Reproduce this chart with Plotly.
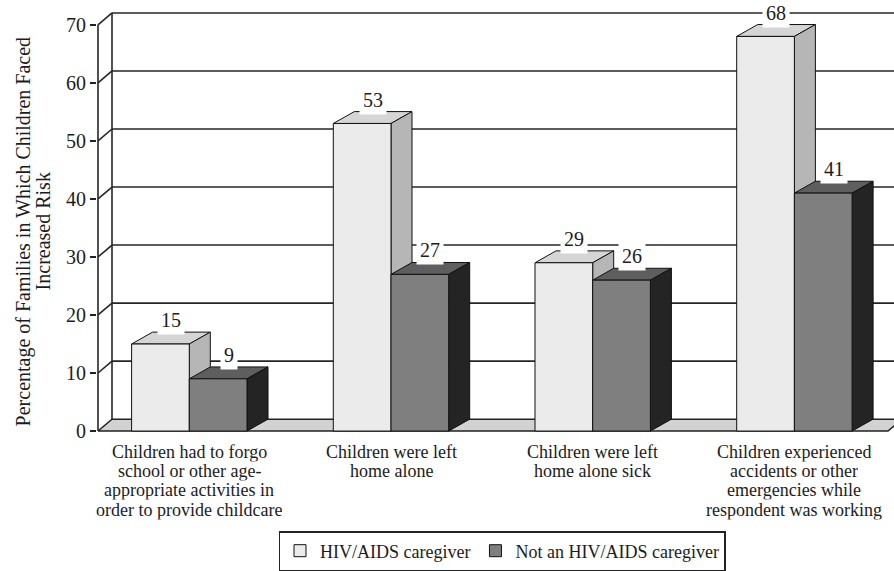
import plotly.graph_objects as go

# ---- data -------------------------------------------------------------
categories = [
    "Children had to forgo<br>school or other age-<br>appropriate activities in<br>order to provide childcare",
    "Children were left<br>home alone",
    "Children were left<br>home alone sick",
    "Children experienced<br>accidents or other<br>emergencies while<br>respondent was working",
]
hiv_caregiver = [15, 53, 29, 68]
not_caregiver = [9, 27, 26, 41]
series_names = ["HIV/AIDS caregiver", "Not an HIV/AIDS caregiver"]
y_ticks = [0, 10, 20, 30, 40, 50, 60, 70]
y_title_lines = ["Percentage of Families in Which Children Faced", "Increased Risk"]

# ---- layout geometry --------------------------------------------------
W, H = 894, 571
M_L, M_R, M_T, M_B = 97, 0, 5, 131
plot_w = W - M_L - M_R
plot_h = H - M_T - M_B

PX_X = 201.7                 # pixels per category step
FIRST_CENTER_PX = 92.3       # first group centre, from plot left edge
PX_Y = 410.0 / 70.0          # pixels per percentage point
ZERO_PX = 5.0                # y=0 sits this far above the plot bottom

X_RANGE = [-FIRST_CENTER_PX / PX_X, (plot_w - FIRST_CENTER_PX) / PX_X]
Y_RANGE = [-ZERO_PX / PX_Y, (plot_h - ZERO_PX) / PX_Y]

X_FRONT = X_RANGE[0] + 1.0 / PX_X         # front value axis
BAR_W = 57.7 / PX_X                        # width of one bar
DX, DY = 21.0 / PX_X, 12.0 / PX_Y          # bar depth offset
WDX, WDY = 14.0 / PX_X, 12.0 / PX_Y        # wall depth offset
FLOOR_RIGHT = (888.0 - 97.0 - FIRST_CENTER_PX) / PX_X

FONT = "Liberation Serif"
INK = "#1c1c1c"
EDGE = dict(color="#111111", width=1)

# face colours: (front, top, side)
PALETTE = [
    ("#ebebeb", "#d5d5d5", "#b6b6b6"),
    ("#7f7f7f", "#5e5e5e", "#242424"),
]

fig = go.Figure()


def poly(xs, ys, fill, line=EDGE):
    fig.add_trace(go.Scatter(
        x=list(xs) + [xs[0]], y=list(ys) + [ys[0]],
        mode="lines", fill="toself", fillcolor=fill, line=line,
        showlegend=False, hoverinfo="skip"))


def seg(xs, ys, color="#262626", width=1.6):
    fig.add_trace(go.Scatter(
        x=xs, y=ys, mode="lines", line=dict(color=color, width=width),
        showlegend=False, hoverinfo="skip"))


# floor
poly([X_FRONT, FLOOR_RIGHT, FLOOR_RIGHT + WDX, X_FRONT + WDX],
     [0, 0, WDY, WDY], "#d2d2d2", line=dict(color="#222222", width=1.5))

# back wall: vertical edge, gridlines and the side-wall diagonals
seg([X_FRONT + WDX, X_FRONT + WDX], [WDY, y_ticks[-1] + WDY])
for t in y_ticks[1:]:
    seg([X_FRONT + WDX, X_RANGE[1]], [t + WDY, t + WDY])
for t in y_ticks[1:]:
    seg([X_FRONT, X_FRONT + WDX], [t, t + WDY])

# front value axis
seg([X_FRONT, X_FRONT], [0, y_ticks[-1]])

# bars, drawn back-to-front inside each group
label_pts = []
for i in range(len(categories)):
    for s, vals in enumerate([hiv_caregiver, not_caregiver]):
        v = vals[i]
        x0 = i - BAR_W + s * BAR_W
        x1 = x0 + BAR_W
        front, top, side = PALETTE[s]
        poly([x0, x1, x1 + DX, x0 + DX], [v, v, v + DY, v + DY], top)
        poly([x1, x1 + DX, x1 + DX, x1], [0, DY, v + DY, v], side)
        poly([x0, x1, x1, x0], [0, 0, v, v], front)
        label_pts.append(((x0 + x1) / 2 + DX / 2, v + DY, v))

# legend entries
for s, name in enumerate(series_names):
    fig.add_trace(go.Bar(
        x=[None], y=[None], name=name,
        marker=dict(color=PALETTE[s][0], line=dict(color="#111111", width=1))))

annotations = []
# value labels above each bar
for x, y, v in label_pts:
    annotations.append(dict(
        x=x, y=y, xref="x", yref="y", text=str(v), showarrow=False,
        yanchor="middle", yshift=12, bgcolor="white", borderpad=3,
        font=dict(family=FONT, size=20, color=INK)))

# category labels, one line at a time for tight leading
LINE_STEP = 19.3
for i, label in enumerate(categories):
    for k, line in enumerate(label.split("<br>")):
        annotations.append(dict(
            x=i, y=0, xref="x", yref="y", text=line, showarrow=False,
            yanchor="middle", yshift=-(21.2 + k * LINE_STEP),
            height=18.5, borderpad=0, valign="middle",
            font=dict(family=FONT, size=18, color=INK)))

# value axis title
for k, line in enumerate(y_title_lines):
    annotations.append(dict(
        x=0, y=(plot_h + M_T - 228.5 - M_T) / plot_h, xref="paper", yref="paper",
        text=line, showarrow=False, textangle=-90,
        xanchor="center", yanchor="middle", xshift=-(M_L - 23) + k * 20,
        font=dict(family=FONT, size=20, color=INK)))

fig.update_layout(
    width=W, height=H,
    margin=dict(l=M_L, r=M_R, t=M_T, b=M_B),
    paper_bgcolor="white", plot_bgcolor="white",
    showlegend=True,
    legend=dict(
        orientation="h", xanchor="center", yanchor="top",
        x=(502 - M_L) / plot_w, y=(plot_h + M_T - 536) / plot_h,
        bordercolor="#222222", borderwidth=1.5, bgcolor="white",
        font=dict(family=FONT, size=18, color=INK)),
    annotations=annotations,
    xaxis=dict(range=X_RANGE, visible=False, fixedrange=True),
    yaxis=dict(
        range=Y_RANGE, tickvals=y_ticks, ticks="outside", ticklen=6,
        tickwidth=1.5, tickcolor="#222222", showgrid=False, zeroline=False,
        showline=False, fixedrange=True,
        tickfont=dict(family=FONT, size=20, color=INK)),
)

fig.write_html("out.html")
